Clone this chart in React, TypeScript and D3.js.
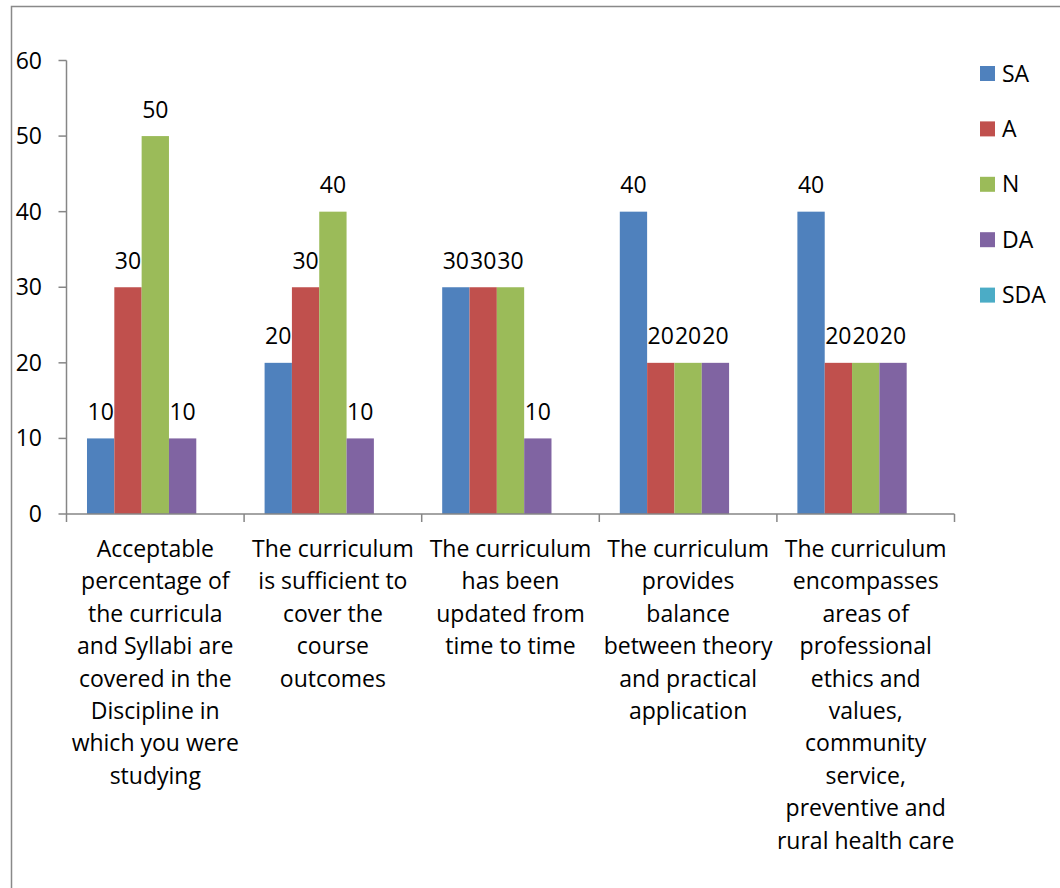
import React from "react";
import * as d3 from "d3";

const categories = [
  "Acceptable\npercentage of\nthe curricula\nand Syllabi are\ncovered in the\nDiscipline in\nwhich you were\nstudying",
  "The curriculum\nis sufficient to\ncover the\ncourse\noutcomes",
  "The curriculum\nhas been\nupdated from\ntime to time",
  "The curriculum\nprovides\nbalance\nbetween theory\nand practical\napplication",
  "The curriculum\nencompasses\nareas of\nprofessional\nethics and\nvalues,\ncommunity\nservice,\npreventive and\nrural health care",
];

const seriesNames = ["SA", "A", "N", "DA", "SDA"];
const seriesColors = ["#4F81BD", "#C0504D", "#9BBB59", "#8064A2", "#4BACC6"];

const SA = [10, 20, 30, 40, 40];
const A = [30, 30, 30, 20, 20];
const N = [50, 40, 30, 20, 20];
const DA = [10, 10, 10, 20, 20];
const SDA: (number | null)[] = [null, null, null, null, null];

const seriesValues = [SA, A, N, DA, SDA];
const yTicks = [0, 10, 20, 30, 40, 50, 60];

const FONT = "'Open Sans', sans-serif";
const FS = 23;

export default function App() {
  const W = 1060;
  const H = 888;
  const x0 = 66.5;
  const x1 = 954.5;
  const x = d3.scaleBand<string>().domain(categories).range([x0, x1]).paddingInner(0).paddingOuter(0);
  const xi = d3
    .scaleBand<string>()
    .domain(seriesNames)
    .range([0, x.bandwidth()])
    .paddingInner(0)
    .paddingOuter(0.75);
  const y = d3.scaleLinear().domain([0, 60]).range([514, 60.5]);
  const axisColor = "#868686";

  return (
    <div style={{ position: "absolute", left: 0, top: 0 }}>
      <svg width={W} height={H} style={{ display: "block" }}>
        <rect x={0} y={0} width={W} height={H} fill="#fff" />
        <rect x={11.5} y={6.5} width={W + 20} height={H + 20} fill="none" stroke="#898989" strokeWidth={1.5} />
        {/* bars */}
        {seriesValues.map((vals, si) =>
          vals.map((v, ci) =>
            v == null ? null : (
              <rect
                key={`b${si}-${ci}`}
                x={(x(categories[ci]) as number) + (xi(seriesNames[si]) as number)}
                y={y(v)}
                width={xi.bandwidth()}
                height={y(0) - y(v)}
                fill={seriesColors[si]}
              />
            )
          )
        )}
        {/* y axis */}
        <line x1={x0} x2={x0} y1={y(60)} y2={y(0)} stroke={axisColor} strokeWidth={1.5} />
        {yTicks.map((t) => (
          <g key={`yt${t}`}>
            <line x1={x0 - 8} x2={x0} y1={y(t)} y2={y(t)} stroke={axisColor} strokeWidth={1.5} />
            <text x={42} y={y(t) + 8} textAnchor="end" fontFamily={FONT} fontSize={FS} fill="#000">
              {t}
            </text>
          </g>
        ))}
        {/* x axis */}
        <line x1={x0} x2={x1} y1={y(0)} y2={y(0)} stroke={axisColor} strokeWidth={1.5} />
        {[...categories.map((c) => x(c) as number), x1].map((px, i) => (
          <line key={`xt${i}`} x1={px} x2={px} y1={y(0)} y2={y(0) + 8} stroke={axisColor} strokeWidth={1.5} />
        ))}
        {categories.map((c) => (
          <text
            key={`cl${c}`}
            x={(x(c) as number) + x.bandwidth() / 2}
            y={557}
            textAnchor="middle"
            fontFamily={FONT}
            fontSize={FS}
            fill="#000"
          >
            {c.split("\n").map((ln, li) => (
              <tspan key={li} x={(x(c) as number) + x.bandwidth() / 2} y={557 + li * 32.4}>
                {ln}
              </tspan>
            ))}
          </text>
        ))}
        {/* data labels */}
        {seriesValues.map((vals, si) =>
          vals.map((v, ci) =>
            v == null ? null : (
              <text
                key={`l${si}-${ci}`}
                x={(x(categories[ci]) as number) + (xi(seriesNames[si]) as number) + xi.bandwidth() / 2}
                y={y(v) - 18.5}
                textAnchor="middle"
                fontFamily={FONT}
                fontSize={FS}
                fill="#000"
              >
                {v}
              </text>
            )
          )
        )}
        {/* legend */}
        {seriesNames.map((s, i) => (
          <g key={`lg${s}`} transform={`translate(980,${66 + i * 55.4})`}>
            <rect x={0} y={0} width={15} height={15} fill={seriesColors[i]} />
            <text x={22} y={15.5} fontFamily={FONT} fontSize={FS} fill="#000">
              {s}
            </text>
          </g>
        ))}
      </svg>
    </div>
  );
}
